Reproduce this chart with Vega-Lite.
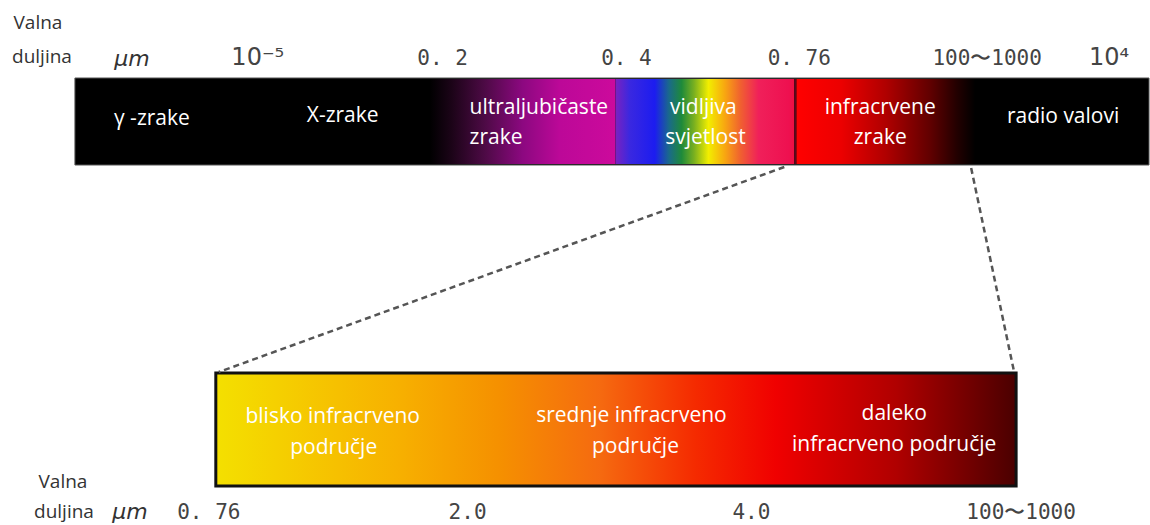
{
  "$schema": "https://vega.github.io/schema/vega-lite/v6.json",
  "width": 1150,
  "height": 525,
  "padding": 0,
  "autosize": {"type": "fit", "contains": "padding"},
  "background": "white",
  "config": {"view": {"stroke": null}},
  "datasets": {
    "bands": [
      {"band": "top", "x": 75, "x2": 1150, "y": 78, "y2": 165},
      {"band": "uv", "x": 430, "x2": 616, "y": 79, "y2": 164},
      {"band": "vis", "x": 616, "x2": 795, "y": 79, "y2": 164},
      {"band": "ir", "x": 797, "x2": 976, "y": 79, "y2": 164},
      {"band": "bottom", "x": 216, "x2": 1017, "y": 373, "y2": 486}
    ],
    "marks": [
      {"kind": "divider", "x": 796, "y": 79, "x2": 796, "y2": 164},
      {"kind": "zoom", "x": 785, "y": 167, "x2": 219, "y2": 372},
      {"kind": "zoom", "x": 972, "y": 168, "x2": 1015, "y2": 372}
    ],
    "labels": [
      {"kind": "title", "text": "Valna", "x": 38, "y": 23},
      {"kind": "title", "text": "duljina", "x": 42, "y": 57},
      {"kind": "unit", "text": "μm", "x": 132, "y": 59},
      {"kind": "sup", "text": "10⁻⁵", "x": 258, "y": 58},
      {"kind": "tick", "text": "0. 2", "x": 443, "y": 59},
      {"kind": "tick", "text": "0. 4", "x": 627, "y": 59},
      {"kind": "tick", "text": "0. 76", "x": 800, "y": 59},
      {"kind": "tick", "text": "100〜1000", "x": 988, "y": 59},
      {"kind": "sup", "text": "10⁴", "x": 1110, "y": 58},
      {"kind": "white", "text": "γ -zrake", "x": 152, "y": 119},
      {"kind": "white", "text": "X-zrake", "x": 343, "y": 116},
      {"kind": "whiteLeft", "text": "ultraljubičaste", "x": 470, "y": 108},
      {"kind": "whiteLeft", "text": "zrake", "x": 470, "y": 138},
      {"kind": "white", "text": "vidljiva", "x": 704, "y": 108},
      {"kind": "white", "text": "svjetlost", "x": 706, "y": 138},
      {"kind": "white", "text": "infracrvene", "x": 881, "y": 108},
      {"kind": "white", "text": "zrake", "x": 881, "y": 138},
      {"kind": "white", "text": "radio valovi", "x": 1064, "y": 117},
      {"kind": "white", "text": "blisko infracrveno", "x": 333, "y": 417},
      {"kind": "white", "text": "područje", "x": 334, "y": 448},
      {"kind": "white", "text": "srednje infracrveno", "x": 632, "y": 416},
      {"kind": "white", "text": "područje", "x": 636, "y": 447},
      {"kind": "white", "text": "daleko", "x": 895, "y": 414},
      {"kind": "white", "text": "infracrveno područje", "x": 895, "y": 445},
      {"kind": "title", "text": "Valna", "x": 63, "y": 482},
      {"kind": "title", "text": "duljina", "x": 64, "y": 512},
      {"kind": "unit", "text": "μm", "x": 130, "y": 512},
      {"kind": "tick", "text": "0. 76", "x": 209, "y": 513},
      {"kind": "tick", "text": "2.0", "x": 468, "y": 513},
      {"kind": "tick", "text": "4.0", "x": 752, "y": 513},
      {"kind": "tick", "text": "100〜1000", "x": 1022, "y": 513}
    ]
  },
  "encoding": {
    "x": {"field": "x", "type": "quantitative", "scale": {"domain": [0, 1150], "nice": false, "zero": false}, "axis": null},
    "y": {"field": "y", "type": "quantitative", "scale": {"domain": [0, 525], "nice": false, "zero": false, "reverse": true}, "axis": null}
  },
  "layer": [
    {
      "data": {"name": "bands"},
      "transform": [{"filter": "datum.band === 'top'"}],
      "mark": {"type": "rect", "fill": "#000000", "stroke": "#555555", "strokeWidth": 1},
      "encoding": {"x2": {"field": "x2"}, "y2": {"field": "y2"}}
    },
    {
      "data": {"name": "bands"},
      "transform": [{"filter": "datum.band === 'uv'"}],
      "mark": {"type": "rect", "fill": {"gradient": "linear", "x1": 0, "y1": 0, "x2": 1, "y2": 0, "stops": [
        {"offset": 0, "color": "#000000"},
        {"offset": 0.12, "color": "#1c0418"},
        {"offset": 0.3, "color": "#4e0a46"},
        {"offset": 0.5, "color": "#8c0880"},
        {"offset": 0.7, "color": "#bc0898"},
        {"offset": 1, "color": "#cc0a9c"}
      ]}},
      "encoding": {"x2": {"field": "x2"}, "y2": {"field": "y2"}}
    },
    {
      "data": {"name": "bands"},
      "transform": [{"filter": "datum.band === 'vis'"}],
      "mark": {"type": "rect", "fill": {"gradient": "linear", "x1": 0, "y1": 0, "x2": 1, "y2": 0, "stops": [
        {"offset": 0, "color": "#7a22c0"},
        {"offset": 0.08, "color": "#3a28e0"},
        {"offset": 0.22, "color": "#1c1cf0"},
        {"offset": 0.3, "color": "#1a6a8a"},
        {"offset": 0.37, "color": "#1e8a3a"},
        {"offset": 0.44, "color": "#7ab020"},
        {"offset": 0.52, "color": "#f2ee00"},
        {"offset": 0.61, "color": "#f8a810"},
        {"offset": 0.7, "color": "#f06030"},
        {"offset": 0.8, "color": "#f0205a"},
        {"offset": 0.97, "color": "#ee1050"},
        {"offset": 1, "color": "#ee1040"}
      ]}},
      "encoding": {"x2": {"field": "x2"}, "y2": {"field": "y2"}}
    },
    {
      "data": {"name": "bands"},
      "transform": [{"filter": "datum.band === 'ir'"}],
      "mark": {"type": "rect", "fill": {"gradient": "linear", "x1": 0, "y1": 0, "x2": 1, "y2": 0, "stops": [
        {"offset": 0, "color": "#ff0000"},
        {"offset": 0.25, "color": "#ec0000"},
        {"offset": 0.5, "color": "#b00000"},
        {"offset": 0.75, "color": "#600000"},
        {"offset": 0.9, "color": "#220000"},
        {"offset": 1, "color": "#000000"}
      ]}},
      "encoding": {"x2": {"field": "x2"}, "y2": {"field": "y2"}}
    },
    {
      "data": {"name": "bands"},
      "transform": [{"filter": "datum.band === 'bottom'"}],
      "mark": {"type": "rect", "stroke": "#111111", "strokeWidth": 3, "fill": {"gradient": "linear", "x1": 0, "y1": 0, "x2": 1, "y2": 0, "stops": [
        {"offset": 0, "color": "#f4e000"},
        {"offset": 0.23, "color": "#f7b000"},
        {"offset": 0.355, "color": "#f59000"},
        {"offset": 0.48, "color": "#f56a10"},
        {"offset": 0.6, "color": "#f52a00"},
        {"offset": 0.7, "color": "#f00000"},
        {"offset": 0.85, "color": "#b00000"},
        {"offset": 1, "color": "#4a0000"}
      ]}},
      "encoding": {"x2": {"field": "x2"}, "y2": {"field": "y2"}}
    },
    {
      "data": {"name": "marks"},
      "transform": [{"filter": "datum.kind === 'divider'"}],
      "mark": {"type": "rule", "color": "#5a0a1e", "strokeWidth": 2},
      "encoding": {"x2": {"field": "x2"}, "y2": {"field": "y2"}}
    },
    {
      "data": {"name": "marks"},
      "transform": [{"filter": "datum.kind === 'zoom'"}],
      "mark": {"type": "rule", "color": "#555555", "strokeWidth": 2.5, "strokeDash": [6, 4]},
      "encoding": {"x2": {"field": "x2"}, "y2": {"field": "y2"}}
    },
    {
      "data": {"name": "labels"},
      "transform": [{"filter": "datum.kind === 'white'"}],
      "mark": {"type": "text", "font": "Open Sans", "fontSize": 21, "color": "#ffffff", "align": "center", "baseline": "middle"},
      "encoding": {"text": {"field": "text"}}
    },
    {
      "data": {"name": "labels"},
      "transform": [{"filter": "datum.kind === 'whiteLeft'"}],
      "mark": {"type": "text", "font": "Open Sans", "fontSize": 21, "color": "#ffffff", "align": "left", "baseline": "middle"},
      "encoding": {"text": {"field": "text"}}
    },
    {
      "data": {"name": "labels"},
      "transform": [{"filter": "datum.kind === 'title'"}],
      "mark": {"type": "text", "font": "Open Sans", "fontSize": 19, "color": "#333333", "align": "center", "baseline": "middle"},
      "encoding": {"text": {"field": "text"}}
    },
    {
      "data": {"name": "labels"},
      "transform": [{"filter": "datum.kind === 'unit'"}],
      "mark": {"type": "text", "font": "DejaVu Sans", "fontSize": 22, "fontStyle": "italic", "color": "#333333", "align": "center", "baseline": "middle"},
      "encoding": {"text": {"field": "text"}}
    },
    {
      "data": {"name": "labels"},
      "transform": [{"filter": "datum.kind === 'sup'"}],
      "mark": {"type": "text", "font": "DejaVu Sans", "fontSize": 24, "color": "#444444", "align": "center", "baseline": "middle"},
      "encoding": {"text": {"field": "text"}}
    },
    {
      "data": {"name": "labels"},
      "transform": [{"filter": "datum.kind === 'tick'"}],
      "mark": {"type": "text", "font": "DejaVu Sans Mono", "fontSize": 21, "color": "#444444", "align": "center", "baseline": "middle"},
      "encoding": {"text": {"field": "text"}}
    }
  ]
}
